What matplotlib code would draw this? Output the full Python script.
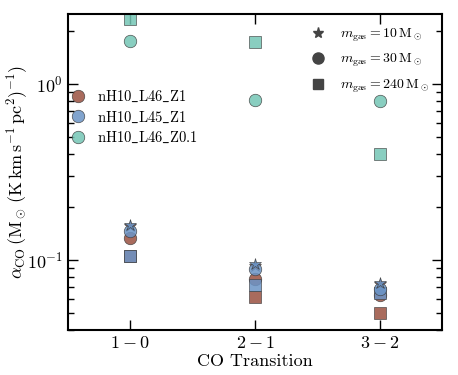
import matplotlib
matplotlib.use("Agg")
import matplotlib.pyplot as plt
from matplotlib.lines import Line2D

plt.rcParams['font.family'] = 'serif'
plt.rcParams['font.serif'] = ['cmr10', 'DejaVu Serif']
plt.rcParams['mathtext.fontset'] = 'cm'
plt.rcParams['axes.formatter.use_mathtext'] = True

transitions = ['$1-0$', '$2-1$', '$3-2$']
x = [1, 2, 3]

# alpha_CO per run, per gas mass resolution
runs = ['nH10_L46_Z1', 'nH10_L45_Z1', 'nH10_L46_Z0.1']
run_labels = [r'$\mathrm{nH10\_L46\_Z1}$', r'$\mathrm{nH10\_L45\_Z1}$', r'$\mathrm{nH10\_L46\_Z0.1}$']
colors = ['#9a5140', '#6b94c6', '#74c6b5']

m10 = {
    'nH10_L46_Z1': [0.155, 0.093, 0.073],
    'nH10_L45_Z1': [0.158, 0.095, 0.074],
    'nH10_L46_Z0.1': [None, None, None],
}
m30 = {
    'nH10_L46_Z1': [0.133, 0.078, 0.063],
    'nH10_L45_Z1': [0.147, 0.089, 0.068],
    'nH10_L46_Z0.1': [1.75, 0.81, 0.80],
}
m240 = {
    'nH10_L46_Z1': [0.105, 0.062, 0.050],
    'nH10_L45_Z1': [0.105, 0.072, 0.065],
    'nH10_L46_Z0.1': [2.34, 1.73, 0.40],
}

fig = plt.figure(figsize=(4.58, 3.75), dpi=100)
ax = fig.add_axes([68 / 458, 45 / 375, 374 / 458, 316 / 375])

for run, c in zip(runs, colors):
    for data, mk, ms in [(m240, 's', 9), (m30, 'o', 9), (m10, '*', 9)]:
        xs = [xi for xi, v in zip(x, data[run]) if v is not None]
        ys = [v for v in data[run] if v is not None]
        ax.plot(xs, ys, ls='none', marker=mk, ms=ms, color=c, alpha=0.85,
                mec='#3a3a3a', mew=0.5)

ax.set_yscale('log')
ax.set_ylim(0.04, 2.5)
ax.set_xlim(0.5, 3.5)
ax.set_xticks(x)
ax.set_xticklabels(transitions, fontsize=13)
ax.set_xlabel('CO Transition', fontsize=13, labelpad=2)
ax.set_ylabel(r'$\alpha_{\rm CO}\,(\mathrm{M}_\odot\,(\mathrm{K\,km\,s^{-1}\,pc^{2}})^{-1})$',
              fontsize=13, labelpad=-2)
ax.tick_params(which='both', direction='in', top=True, right=True, labelsize=13)
ax.tick_params(which='major', length=7, width=1)
ax.tick_params(which='minor', length=4, width=1)
for s in ax.spines.values():
    s.set_linewidth(1.5)

h1 = [Line2D([], [], ls='none', marker='o', ms=9, color=c, alpha=0.85, mec='#3a3a3a', mew=0.5)
      for c in colors]
leg1 = ax.legend(h1, run_labels, loc='upper left', bbox_to_anchor=(-0.035, 0.79), frameon=False,
                 fontsize=10.5, handletextpad=0.3, labelspacing=0.35, borderaxespad=0.2)
ax.add_artist(leg1)

h2 = [Line2D([], [], ls='none', marker=m, ms=s, color='#444444') for m, s in [('*', 8), ('o', 8), ('s', 7)]]
l2 = [r'$m_{\rm gas}=10\,\mathrm{M}_\odot$', r'$m_{\rm gas}=30\,\mathrm{M}_\odot$',
      r'$m_{\rm gas}=240\,\mathrm{M}_\odot$']
ax.legend(h2, l2, loc='upper right', frameon=False, fontsize=10, handletextpad=0.6,
          labelspacing=0.6)

fig.savefig('out.png', dpi=100)
